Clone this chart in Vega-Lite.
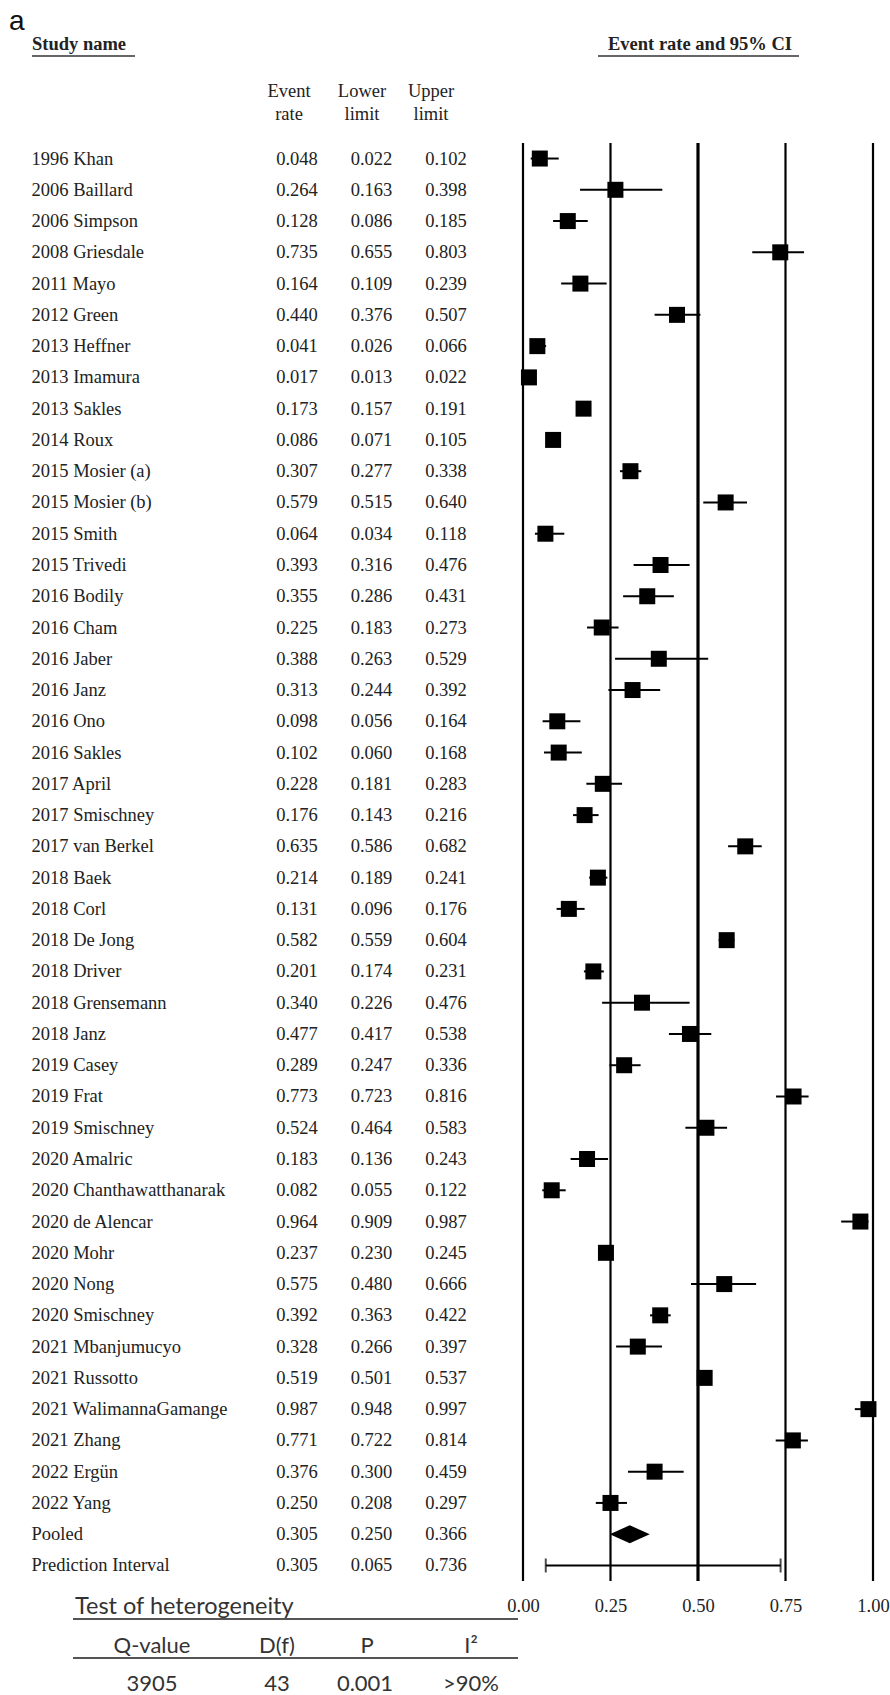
{
  "$schema": "https://vega.github.io/schema/vega-lite/v6.json",
  "width": 890,
  "height": 1695,
  "autosize": {"type": "fit", "contains": "padding"},
  "padding": 0,
  "background": "white",
  "config": {"view": {"stroke": null}, "text": {"font": "Liberation Serif", "color": "#222"}},
  "data": {"values": [
    {"study": "1996 Khan", "er": 0.048, "lo": 0.022, "hi": 0.102, "kind": "study"},
    {"study": "2006 Baillard", "er": 0.264, "lo": 0.163, "hi": 0.398, "kind": "study"},
    {"study": "2006 Simpson", "er": 0.128, "lo": 0.086, "hi": 0.185, "kind": "study"},
    {"study": "2008 Griesdale", "er": 0.735, "lo": 0.655, "hi": 0.803, "kind": "study"},
    {"study": "2011 Mayo", "er": 0.164, "lo": 0.109, "hi": 0.239, "kind": "study"},
    {"study": "2012 Green", "er": 0.440, "lo": 0.376, "hi": 0.507, "kind": "study"},
    {"study": "2013 Heffner", "er": 0.041, "lo": 0.026, "hi": 0.066, "kind": "study"},
    {"study": "2013 Imamura", "er": 0.017, "lo": 0.013, "hi": 0.022, "kind": "study"},
    {"study": "2013 Sakles", "er": 0.173, "lo": 0.157, "hi": 0.191, "kind": "study"},
    {"study": "2014 Roux", "er": 0.086, "lo": 0.071, "hi": 0.105, "kind": "study"},
    {"study": "2015 Mosier (a)", "er": 0.307, "lo": 0.277, "hi": 0.338, "kind": "study"},
    {"study": "2015 Mosier (b)", "er": 0.579, "lo": 0.515, "hi": 0.640, "kind": "study"},
    {"study": "2015 Smith", "er": 0.064, "lo": 0.034, "hi": 0.118, "kind": "study"},
    {"study": "2015 Trivedi", "er": 0.393, "lo": 0.316, "hi": 0.476, "kind": "study"},
    {"study": "2016 Bodily", "er": 0.355, "lo": 0.286, "hi": 0.431, "kind": "study"},
    {"study": "2016 Cham", "er": 0.225, "lo": 0.183, "hi": 0.273, "kind": "study"},
    {"study": "2016 Jaber", "er": 0.388, "lo": 0.263, "hi": 0.529, "kind": "study"},
    {"study": "2016 Janz", "er": 0.313, "lo": 0.244, "hi": 0.392, "kind": "study"},
    {"study": "2016 Ono", "er": 0.098, "lo": 0.056, "hi": 0.164, "kind": "study"},
    {"study": "2016 Sakles", "er": 0.102, "lo": 0.060, "hi": 0.168, "kind": "study"},
    {"study": "2017 April", "er": 0.228, "lo": 0.181, "hi": 0.283, "kind": "study"},
    {"study": "2017 Smischney", "er": 0.176, "lo": 0.143, "hi": 0.216, "kind": "study"},
    {"study": "2017 van Berkel", "er": 0.635, "lo": 0.586, "hi": 0.682, "kind": "study"},
    {"study": "2018 Baek", "er": 0.214, "lo": 0.189, "hi": 0.241, "kind": "study"},
    {"study": "2018 Corl", "er": 0.131, "lo": 0.096, "hi": 0.176, "kind": "study"},
    {"study": "2018 De Jong", "er": 0.582, "lo": 0.559, "hi": 0.604, "kind": "study"},
    {"study": "2018 Driver", "er": 0.201, "lo": 0.174, "hi": 0.231, "kind": "study"},
    {"study": "2018 Grensemann", "er": 0.340, "lo": 0.226, "hi": 0.476, "kind": "study"},
    {"study": "2018 Janz", "er": 0.477, "lo": 0.417, "hi": 0.538, "kind": "study"},
    {"study": "2019 Casey", "er": 0.289, "lo": 0.247, "hi": 0.336, "kind": "study"},
    {"study": "2019 Frat", "er": 0.773, "lo": 0.723, "hi": 0.816, "kind": "study"},
    {"study": "2019 Smischney", "er": 0.524, "lo": 0.464, "hi": 0.583, "kind": "study"},
    {"study": "2020 Amalric", "er": 0.183, "lo": 0.136, "hi": 0.243, "kind": "study"},
    {"study": "2020 Chanthawatthanarak", "er": 0.082, "lo": 0.055, "hi": 0.122, "kind": "study"},
    {"study": "2020 de Alencar", "er": 0.964, "lo": 0.909, "hi": 0.987, "kind": "study"},
    {"study": "2020 Mohr", "er": 0.237, "lo": 0.230, "hi": 0.245, "kind": "study"},
    {"study": "2020 Nong", "er": 0.575, "lo": 0.480, "hi": 0.666, "kind": "study"},
    {"study": "2020 Smischney", "er": 0.392, "lo": 0.363, "hi": 0.422, "kind": "study"},
    {"study": "2021 Mbanjumucyo", "er": 0.328, "lo": 0.266, "hi": 0.397, "kind": "study"},
    {"study": "2021 Russotto", "er": 0.519, "lo": 0.501, "hi": 0.537, "kind": "study"},
    {"study": "2021 WalimannaGamange", "er": 0.987, "lo": 0.948, "hi": 0.997, "kind": "study"},
    {"study": "2021 Zhang", "er": 0.771, "lo": 0.722, "hi": 0.814, "kind": "study"},
    {"study": "2022 Ergün", "er": 0.376, "lo": 0.300, "hi": 0.459, "kind": "study"},
    {"study": "2022 Yang", "er": 0.250, "lo": 0.208, "hi": 0.297, "kind": "study"},
    {"study": "Pooled", "er": 0.305, "lo": 0.250, "hi": 0.366, "kind": "pooled"},
    {"study": "Prediction Interval", "er": 0.305, "lo": 0.065, "hi": 0.736, "kind": "pi"}
  ]},
  "encoding": {
    "y": {
      "field": "study", "type": "nominal",
      "scale": {"type": "band", "range": [142.9, 1581.1], "paddingInner": 0, "paddingOuter": 0,
        "domain": ["1996 Khan","2006 Baillard","2006 Simpson","2008 Griesdale","2011 Mayo","2012 Green","2013 Heffner","2013 Imamura","2013 Sakles","2014 Roux","2015 Mosier (a)","2015 Mosier (b)","2015 Smith","2015 Trivedi","2016 Bodily","2016 Cham","2016 Jaber","2016 Janz","2016 Ono","2016 Sakles","2017 April","2017 Smischney","2017 van Berkel","2018 Baek","2018 Corl","2018 De Jong","2018 Driver","2018 Grensemann","2018 Janz","2019 Casey","2019 Frat","2019 Smischney","2020 Amalric","2020 Chanthawatthanarak","2020 de Alencar","2020 Mohr","2020 Nong","2020 Smischney","2021 Mbanjumucyo","2021 Russotto","2021 WalimannaGamange","2021 Zhang","2022 Ergün","2022 Yang","Pooled","Prediction Interval"]},
      "axis": {"orient": "left", "offset": -31, "domain": false, "ticks": false, "tickSize": 0, "labelPadding": 0, "labelAlign": "left", "labelFont": "Liberation Serif", "labelFontSize": 18.5, "labelColor": "#222", "labelLimit": 0, "labelOverlap": false, "title": null, "grid": false}
    }
  },
  "resolve": {"scale": {"x": "independent"}, "axis": {"x": "independent"}},
  "layer": [
    {
      "layer": [
        {
          "data": {"values": [{"v": 0}, {"v": 0.25}, {"v": 0.5}, {"v": 0.75}, {"v": 1}]},
          "mark": {"type": "rule", "color": "black"},
          "encoding": {
            "x": {"field": "v", "type": "quantitative", "scale": {"domain": [0, 1], "range": [523, 873], "nice": false, "zero": false},
              "axis": {"orient": "bottom", "offset": -115, "values": [0, 0.25, 0.5, 0.75, 1], "format": ".2f", "domain": false, "ticks": false, "tickSize": 0, "labelPadding": 16, "labelFlush": false, "labelFont": "Liberation Serif", "labelFontSize": 18.5, "labelColor": "#222", "grid": false, "title": null}},
            "y": {"datum": "1996 Khan", "type": "nominal", "bandPosition": 0},
            "y2": {"datum": "Prediction Interval", "bandPosition": 1},
            "strokeWidth": {"condition": {"test": "datum.v === 0.5", "value": 3.2}, "value": 2.2}
          }
        },
        {
          "transform": [{"filter": "datum.kind !== 'pooled'"}],
          "mark": {"type": "rule", "color": "black", "strokeWidth": 2},
          "encoding": {
            "x": {"field": "lo", "type": "quantitative", "scale": {"domain": [0, 1], "range": [523, 873], "nice": false, "zero": false}},
            "x2": {"field": "hi"}
          }
        },
        {
          "transform": [{"filter": "datum.kind === 'study'"}],
          "mark": {"type": "point", "shape": "square", "filled": true, "size": 256, "color": "black", "opacity": 1, "strokeWidth": 0},
          "encoding": {
            "x": {"field": "er", "type": "quantitative", "scale": {"domain": [0, 1], "range": [523, 873], "nice": false, "zero": false}}
          }
        },
        {
          "transform": [{"filter": "datum.kind === 'pooled'"}],
          "mark": {"type": "point", "shape": "M-1,0L0,-0.45L1,0L0,0.45Z", "filled": true, "size": 1600, "color": "black", "opacity": 1, "strokeWidth": 0},
          "encoding": {
            "x": {"field": "er", "type": "quantitative", "scale": {"domain": [0, 1], "range": [523, 873], "nice": false, "zero": false}}
          }
        },
        {
          "transform": [{"filter": "datum.kind === 'pi'"}, {"fold": ["lo", "hi"], "as": ["end", "pos"]}],
          "mark": {"type": "tick", "color": "black", "thickness": 2, "size": 14, "orient": "vertical"},
          "encoding": {
            "x": {"field": "pos", "type": "quantitative", "scale": {"domain": [0, 1], "range": [523, 873], "nice": false, "zero": false}}
          }
        }
      ]
    },
    {
      "transform": [{"fold": ["er", "lo", "hi"], "as": ["col", "val"]}],
      "mark": {"type": "text", "fontSize": 18.5, "align": "center", "baseline": "middle", "font": "Liberation Serif", "color": "#222"},
      "encoding": {
        "x": {"field": "col", "type": "nominal", "scale": {"type": "point", "domain": ["er", "lo", "hi"], "range": [297, 446], "padding": 0}, "axis": null},
        "text": {"field": "val", "type": "quantitative", "format": ".3f"}
      }
    },
    {
      "data": {"values": [{}]},
      "layer": [
        {"mark": {"type": "text", "text": "a", "font": "Liberation Sans", "fontSize": 28, "align": "left", "baseline": "alphabetic", "color": "#111"},
         "encoding": {"x": {"value": 9}, "y": {"value": 30}}},
        {"mark": {"type": "text", "text": "Study name", "font": "Liberation Serif", "fontWeight": "bold", "fontSize": 18.5, "align": "left", "baseline": "alphabetic", "color": "#222"},
         "encoding": {"x": {"value": 32}, "y": {"value": 50}}},
        {"mark": {"type": "text", "text": "Event rate and 95% CI", "font": "Liberation Serif", "fontWeight": "bold", "fontSize": 18.5, "align": "center", "baseline": "alphabetic", "color": "#222"},
         "encoding": {"x": {"value": 700}, "y": {"value": 50}}},
        {"mark": {"type": "rule", "color": "#333", "strokeWidth": 1.6},
         "encoding": {"x": {"value": 32}, "x2": {"value": 135}, "y": {"value": 56}}},
        {"mark": {"type": "rule", "color": "#333", "strokeWidth": 1.6},
         "encoding": {"x": {"value": 598}, "x2": {"value": 799}, "y": {"value": 56}}},
        {"mark": {"type": "text", "text": ["Event", "rate"], "lineHeight": 22.5, "font": "Liberation Serif", "fontSize": 18.5, "align": "center", "baseline": "alphabetic", "color": "#222"},
         "encoding": {"x": {"value": 289}, "y": {"value": 97}}},
        {"mark": {"type": "text", "text": ["Lower", "limit"], "lineHeight": 22.5, "font": "Liberation Serif", "fontSize": 18.5, "align": "center", "baseline": "alphabetic", "color": "#222"},
         "encoding": {"x": {"value": 362}, "y": {"value": 97}}},
        {"mark": {"type": "text", "text": ["Upper", "limit"], "lineHeight": 22.5, "font": "Liberation Serif", "fontSize": 18.5, "align": "center", "baseline": "alphabetic", "color": "#222"},
         "encoding": {"x": {"value": 431}, "y": {"value": 97}}},
        {"mark": {"type": "text", "text": "Test of heterogeneity", "font": "Lato", "fontSize": 23.5, "align": "left", "baseline": "alphabetic", "color": "#333"},
         "encoding": {"x": {"value": 75}, "y": {"value": 1614}}},
        {"mark": {"type": "rule", "color": "#555", "strokeWidth": 2},
         "encoding": {"x": {"value": 73}, "x2": {"value": 518}, "y": {"value": 1619}}},
        {"mark": {"type": "rule", "color": "#555", "strokeWidth": 2},
         "encoding": {"x": {"value": 73}, "x2": {"value": 518}, "y": {"value": 1658}}},
        {"mark": {"type": "text", "text": "Q-value", "font": "Lato", "fontSize": 22, "align": "center", "baseline": "alphabetic", "color": "#333"},
         "encoding": {"x": {"value": 152}, "y": {"value": 1653}}},
        {"mark": {"type": "text", "text": "D(f)", "font": "Lato", "fontSize": 22, "align": "center", "baseline": "alphabetic", "color": "#333"},
         "encoding": {"x": {"value": 277}, "y": {"value": 1653}}},
        {"mark": {"type": "text", "text": "P", "font": "Lato", "fontSize": 22, "align": "center", "baseline": "alphabetic", "color": "#333"},
         "encoding": {"x": {"value": 367}, "y": {"value": 1653}}},
        {"mark": {"type": "text", "text": "I²", "font": "Lato", "fontSize": 22, "align": "center", "baseline": "alphabetic", "color": "#333"},
         "encoding": {"x": {"value": 471}, "y": {"value": 1653}}}
      ]
    },
    {
      "data": {"values": [{"q": "3905", "df": "43", "p": "0.001", "i2": ">90%"}]},
      "layer": [
        {"mark": {"type": "text", "font": "Lato", "fontSize": 22, "align": "center", "baseline": "alphabetic", "color": "#333"},
         "encoding": {"x": {"value": 152}, "y": {"value": 1691}, "text": {"field": "q"}}},
        {"mark": {"type": "text", "font": "Lato", "fontSize": 22, "align": "center", "baseline": "alphabetic", "color": "#333"},
         "encoding": {"x": {"value": 277}, "y": {"value": 1691}, "text": {"field": "df"}}},
        {"mark": {"type": "text", "font": "Lato", "fontSize": 22, "align": "center", "baseline": "alphabetic", "color": "#333"},
         "encoding": {"x": {"value": 365}, "y": {"value": 1691}, "text": {"field": "p"}}},
        {"mark": {"type": "text", "font": "Lato", "fontSize": 22, "align": "center", "baseline": "alphabetic", "color": "#333"},
         "encoding": {"x": {"value": 471}, "y": {"value": 1691}, "text": {"field": "i2"}}}
      ]
    }
  ]
}
